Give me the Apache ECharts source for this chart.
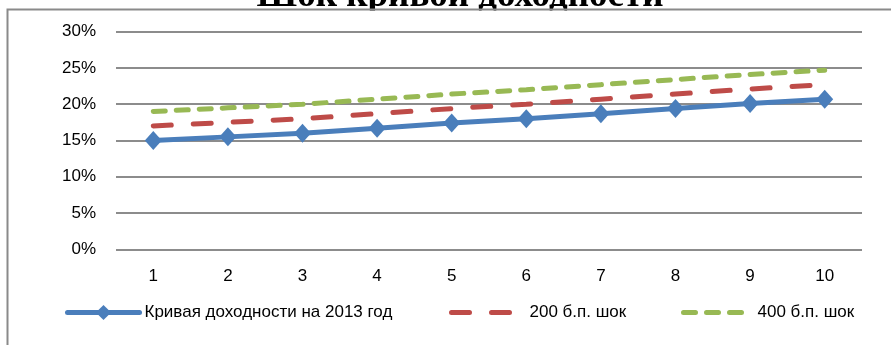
<!DOCTYPE html>
<html>
<head>
<meta charset="utf-8">
<script src="https://cdn.jsdelivr.net/npm/echarts@6/dist/echarts.min.js"></script>
<style>
html,body{margin:0;padding:0;background:#fff;}
#c{width:891px;height:345px;}
</style>
</head>
<body>
<div id="c"></div>
<script>
var titleText = 'Шок кривой доходности';
var categories = ['1','2','3','4','5','6','7','8','9','10'];
var seriesNames = ['Кривая доходности на 2013 год', '200 б.п. шок', '400 б.п. шок'];
var baseCurve = [15.0, 15.5, 16.0, 16.7, 17.4, 18.0, 18.7, 19.4, 20.1, 20.7];
var shock200 = [17.0, 17.5, 18.0, 18.7, 19.4, 20.0, 20.7, 21.4, 22.1, 22.7];
var shock400 = [19.0, 19.5, 20.0, 20.7, 21.4, 22.0, 22.7, 23.4, 24.1, 24.7];
var yTicks = {min: 0, max: 30, interval: 5};

var FONT = 'Liberation Sans';
var BLUE = '#4A7EBB', RED = '#BE4B48', GREEN = '#98B954';
var chart = echarts.init(document.getElementById('c'), null, {renderer: 'canvas'});
var legendText = {fontFamily: FONT, fontSize: 17, color: '#000'};
chart.setOption({
  animation: false,
  backgroundColor: '#fff',
  grid: {left: 116, right: 29, top: 31.7, height: 217.6, containLabel: false},
  xAxis: {
    type: 'category', data: categories, boundaryGap: true,
    axisLine: {show: false}, axisTick: {show: false},
    axisLabel: {fontFamily: FONT, fontSize: 17, color: '#000', margin: 19}
  },
  yAxis: {
    type: 'value', min: yTicks.min, max: yTicks.max, interval: yTicks.interval,
    axisLine: {show: false}, axisTick: {show: false},
    axisLabel: {fontFamily: FONT, fontSize: 17, color: '#000', margin: 20, formatter: '{value}%'},
    splitLine: {lineStyle: {color: '#8c8c8c', width: 2}}
  },
  legend: [
    {data: [seriesNames[0]], left: 60, top: 299, itemWidth: 72, itemHeight: 19, itemGap: 0, textStyle: legendText,
     lineStyle: {width: 5, cap: 'round', color: BLUE}, itemStyle: {color: BLUE}},
    {data: [seriesNames[1]], left: 444, top: 299, itemWidth: 73, itemHeight: 9, itemGap: 0, textStyle: legendText,
     itemStyle: {opacity: 0}, lineStyle: {width: 5, type: [18, 22], cap: 'round', color: RED}},
    {data: [seriesNames[2]], left: 676, top: 299, itemWidth: 69, itemHeight: 9, itemGap: 0, textStyle: legendText,
     itemStyle: {opacity: 0}, lineStyle: {width: 5, type: [12, 11], cap: 'round', color: GREEN}}
  ],
  series: [
    {
      name: seriesNames[0], type: 'line', data: baseCurve, z: 5,
      symbol: 'diamond', symbolSize: [17, 19], showAllSymbol: true,
      itemStyle: {color: BLUE},
      lineStyle: {color: BLUE, width: 5}
    },
    {
      name: seriesNames[1], type: 'line', data: shock200, z: 4,
      symbol: 'none', itemStyle: {color: RED},
      lineStyle: {color: RED, width: 5, type: [18, 22], cap: 'round'}
    },
    {
      name: seriesNames[2], type: 'line', data: shock400, z: 3,
      symbol: 'none', itemStyle: {color: GREEN},
      lineStyle: {color: GREEN, width: 5, type: [12, 11], cap: 'round'}
    }
  ],
  graphic: [
    {type: 'text', z: 1, style: {text: titleText, x: 460, y: -22, fontFamily: 'Liberation Serif', fontWeight: 'bold', fontSize: 37, fill: '#000', textAlign: 'center'}},
    {type: 'rect', z: 2, shape: {x: 150, y: 10.5, width: 620, height: 18}, style: {fill: '#fff'}},
    {type: 'polyline', z: 3, shape: {points: [[7.5, 345], [7.5, 9.5], [891, 9.5]]}, style: {stroke: '#8a8a8a', lineWidth: 2, fill: null}}
  ]
});
</script>
</body>
</html>
